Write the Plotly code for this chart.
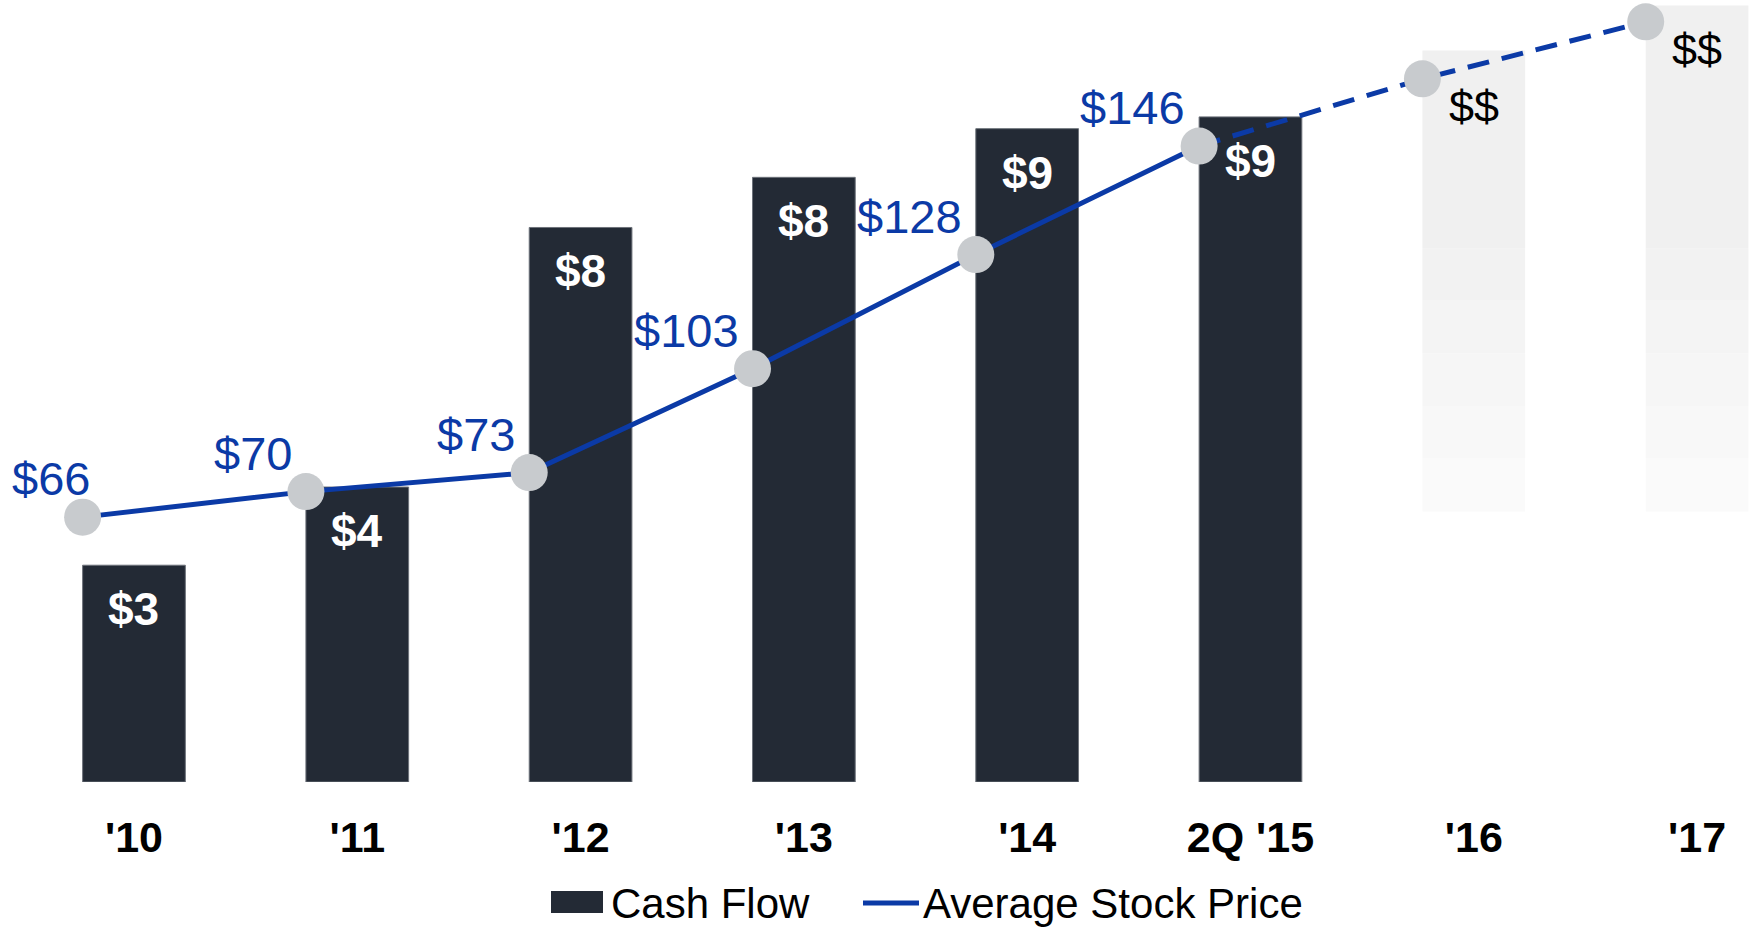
import plotly.graph_objects as go

# categories
years = ["'10", "'11", "'12", "'13", "'14", "2Q '15", "'16", "'17"]

# cash flow bars (actuals) and their labels
cash_flow = [2.94, 4.0, 7.52, 8.2, 8.86, 9.02]
cash_flow_labels = ["$3", "$4", "$8", "$8", "$9", "$9"]

# forecast ranges for '16 / '17 (floating bars)
forecast_low = [3.67, 3.67]
forecast_high = [9.92, 10.53]
forecast_labels = ["$$", "$$"]

# average stock price trend (marker levels) and labels
price_level = [66, 71.5, 75.6, 98, 122.6, 146, 160.5, 172.8]
price_labels = ["$66", "$70", "$73", "$103", "$128", "$146"]

DARK = "#232a35"
BLUE = "#0b3aa6"
GREY_DOT = "#c8cbce"
FONT = "Liberation Sans, Arial, sans-serif"

pos = list(range(len(years)))
n_act = len(cash_flow)
x_act = pos[:n_act]
x_fc = pos[n_act:]
x_line = [p - 0.23 for p in pos]
bar_w = 0.46

fig = go.Figure()

# actual bars
fig.add_trace(go.Bar(
    x=x_act, y=cash_flow, width=bar_w,
    marker=dict(color=DARK, line=dict(color="#6d727a", width=1)),
    name="Cash Flow", showlegend=False, hoverinfo="skip",
))

# forecast bars, drawn as light stepped bands (fading towards the bottom)
band = 0.714
band_colors = ["#fafafa", "#f8f8f8", "#f6f6f6", "#f4f4f4", "#f2f2f2", "#f0f0f0"]
for k, col in enumerate(band_colors):
    lows = [lo + k * band for lo in forecast_low]
    if k < len(band_colors) - 1:
        highs = [lo + (k + 1) * band for lo in forecast_low]
    else:
        highs = forecast_high
    fig.add_trace(go.Bar(
        x=x_fc, y=[h - l for l, h in zip(lows, highs)], base=lows, width=bar_w,
        marker=dict(color=col, line=dict(width=0)),
        showlegend=False, hoverinfo="skip",
    ))

# stock price line: solid for actuals, dashed for forecast
fig.add_trace(go.Scatter(
    x=x_line[:n_act], y=price_level[:n_act], yaxis="y2", mode="lines",
    line=dict(color=BLUE, width=5), showlegend=False, hoverinfo="skip",
))
fig.add_trace(go.Scatter(
    x=x_line[n_act - 1:], y=price_level[n_act - 1:], yaxis="y2", mode="lines",
    line=dict(color=BLUE, width=5, dash="22px,13px"), showlegend=False, hoverinfo="skip",
))
fig.add_trace(go.Scatter(
    x=x_line, y=price_level, yaxis="y2", mode="markers",
    marker=dict(color=GREY_DOT, size=37, line=dict(width=0)),
    showlegend=False, hoverinfo="skip",
))

annotations = []
# white labels inside the bars
for x, v, t in zip(x_act, cash_flow, cash_flow_labels):
    annotations.append(dict(
        x=x, y=v, xref="x", yref="y", text=t, showarrow=False,
        yanchor="middle", yshift=-44,
        font=dict(family=FONT, size=46, color="white", weight="bold"),
    ))
# blue price labels above-left of the dots
for i, (x, v, t) in enumerate(zip(x_line, price_level, price_labels)):
    ann = dict(
        x=x, y=v, xref="x", yref="y2", text=t, showarrow=False,
        xanchor="right", yanchor="bottom", xshift=-12, yshift=10,
        font=dict(family=FONT, size=47, color=BLUE),
    )
    if i == 0:
        # keep the first label inside the left edge of the canvas
        ann.update(x=0, xref="paper", xanchor="left", xshift=10)
    annotations.append(ann)
# "$$" placeholders for forecast years
for x, v, t in zip(x_fc, price_level[n_act:], forecast_labels):
    annotations.append(dict(
        x=x, y=v, xref="x", yref="y2", text=t, showarrow=False,
        yanchor="middle", yshift=-28,
        font=dict(family=FONT, size=45, color="black"),
    ))

# legend
shapes = [
    dict(type="rect", xref="paper", yref="paper", x0=551 / 1752, x1=603 / 1752,
         y0=-131 / 782, y1=-109 / 782, fillcolor=DARK, line=dict(width=0)),
    dict(type="line", xref="paper", yref="paper", x0=863 / 1752, x1=919 / 1752,
         y0=-121 / 782, y1=-121 / 782, line=dict(color=BLUE, width=5)),
]
annotations.append(dict(
    x=609 / 1752, y=-121 / 782, xref="paper", yref="paper", text="Cash Flow",
    showarrow=False, xanchor="left", yanchor="middle",
    font=dict(family=FONT, size=42, color="black"),
))
annotations.append(dict(
    x=921 / 1752, y=-121 / 782, xref="paper", yref="paper", text="Average Stock Price",
    showarrow=False, xanchor="left", yanchor="middle",
    font=dict(family=FONT, size=42, color="black"),
))

fig.update_layout(
    width=1752, height=927,
    margin=dict(l=0, r=0, t=0, b=145),
    paper_bgcolor="white", plot_bgcolor="white",
    barmode="overlay",
    showlegend=False,
    xaxis=dict(
        range=[-0.6, 7.246], tickvals=pos, ticktext=years,
        tickfont=dict(family=FONT, size=43, color="black", weight="bold"),
        showgrid=False, zeroline=False, showline=False, ticks="",
        ticklabelstandoff=26, fixedrange=True,
    ),
    yaxis=dict(range=[0, 10.605], visible=False, fixedrange=True),
    yaxis2=dict(range=[8.89, 177.5], overlaying="y", visible=False, fixedrange=True),
    annotations=annotations,
    shapes=shapes,
)

fig.write_html("out.html", config={"displayModeBar": False},
               post_script="document.body.style.margin = '0';")
